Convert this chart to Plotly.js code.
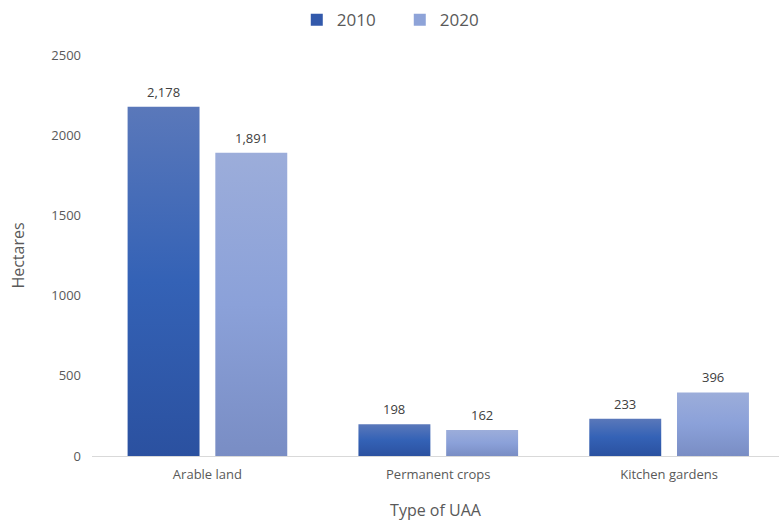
<!DOCTYPE html>
<html>
<head>
<meta charset="utf-8">
<script src="https://cdn.plot.ly/plotly-3.0.1.min.js"></script>
<style>
  html, body { margin: 0; padding: 0; background: #ffffff; }
  #chart { width: 779px; height: 521px; }
</style>
</head>
<body>
<div id="chart"></div>
<script>
// Utilised agricultural area by type, in hectares
const categories = ["Arable land", "Permanent crops", "Kitchen gardens"];
const values2010 = [2178, 198, 233];
const values2020 = [1891, 162, 396];
const seriesNames = ["2010", "2020"];

const FONT = "Open Sans, Noto Sans, sans-serif";
const GREY = "#595959";

function barTrace(name, values, color) {
  return {
    type: "bar",
    name: name,
    x: categories,
    y: values,
    marker: { color: color, line: { width: 0 } },
    hoverinfo: "x+y+name"
  };
}

const data = [
  barTrace(seriesNames[0], values2010, "#3259ab"),
  barTrace(seriesNames[1], values2020, "#8ea3d8")
];

// Value labels sit a little above each bar
const fmt = v => v.toLocaleString("en-US");
const annotations = [];
[[values2010, -44], [values2020, 44]].forEach(([vals, dx]) => {
  vals.forEach((v, i) => {
    annotations.push({
      x: categories[i], y: v, xref: "x", yref: "y",
      text: fmt(v), showarrow: false,
      xshift: dx, yshift: 15,
      font: { family: FONT, size: 13, color: "#404040" }
    });
  });
});

const layout = {
  width: 779,
  height: 521,
  margin: { l: 92, r: 0, t: 55, b: 65 },
  paper_bgcolor: "#ffffff",
  plot_bgcolor: "#ffffff",
  font: { family: FONT, color: GREY, size: 13 },
  bargap: 0.24,
  bargroupgap: 0.18,
  showlegend: true,
  legend: {
    orientation: "h",
    x: 0.448, xanchor: "center",
    y: 1.087, yanchor: "middle",
    font: { family: FONT, size: 17, color: GREY },
    itemwidth: 30,
    entrywidth: 58,
    entrywidthmode: "pixels",
    traceorder: "normal"
  },
  annotations: annotations,
  xaxis: {
    type: "category",
    range: [-0.5, 2.476],
    showgrid: false,
    showline: true,
    linecolor: "#d9d9d9",
    linewidth: 1,
    ticks: "",
    ticklabelstandoff: 6,
    tickfont: { family: FONT, size: 13, color: GREY },
    title: { text: "Type of UAA", font: { family: FONT, size: 16, color: GREY }, standoff: 26 },
    fixedrange: true
  },
  yaxis: {
    range: [0, 2500],
    dtick: 500,
    showgrid: false,
    zeroline: false,
    showline: false,
    ticks: "",
    ticklen: 0,
    ticklabelstandoff: 10,
    tickfont: { family: FONT, size: 13, color: GREY },
    title: { text: "Hectares", font: { family: FONT, size: 16, color: GREY }, standoff: 22 },
    fixedrange: true
  }
};

// Vertical shading for each series' bars
const gradients = [
  { id: "grad2010", stops: [["0%", "#5a78ba"], ["50%", "#3462b6"], ["100%", "#2b51a0"]] },
  { id: "grad2020", stops: [["0%", "#9cadda"], ["50%", "#8ba1d9"], ["100%", "#798dc4"]] }
];

function applyGradients(gd) {
  const svg = gd.querySelector(".main-svg");
  if (!svg) return;
  let defs = svg.querySelector("defs");
  const NS = "http://www.w3.org/2000/svg";
  if (!defs) { defs = document.createElementNS(NS, "defs"); svg.insertBefore(defs, svg.firstChild); }
  gradients.forEach(g => {
    if (defs.querySelector("#" + g.id)) return;
    const lg = document.createElementNS(NS, "linearGradient");
    lg.setAttribute("id", g.id);
    lg.setAttribute("x1", "0"); lg.setAttribute("y1", "0");
    lg.setAttribute("x2", "0"); lg.setAttribute("y2", "1");
    g.stops.forEach(([off, col]) => {
      const s = document.createElementNS(NS, "stop");
      s.setAttribute("offset", off);
      s.setAttribute("stop-color", col);
      lg.appendChild(s);
    });
    defs.appendChild(lg);
  });
  const traces = gd.querySelectorAll(".barlayer .trace.bars");
  traces.forEach((tr, i) => {
    tr.querySelectorAll(".point path").forEach(p => {
      p.style.fill = "url(#" + gradients[i].id + ")";
    });
  });
}

const gd = document.getElementById("chart");
Plotly.newPlot(gd, data, layout, { displayModeBar: false, staticPlot: true }).then(() => applyGradients(gd));
</script>
</body>
</html>
